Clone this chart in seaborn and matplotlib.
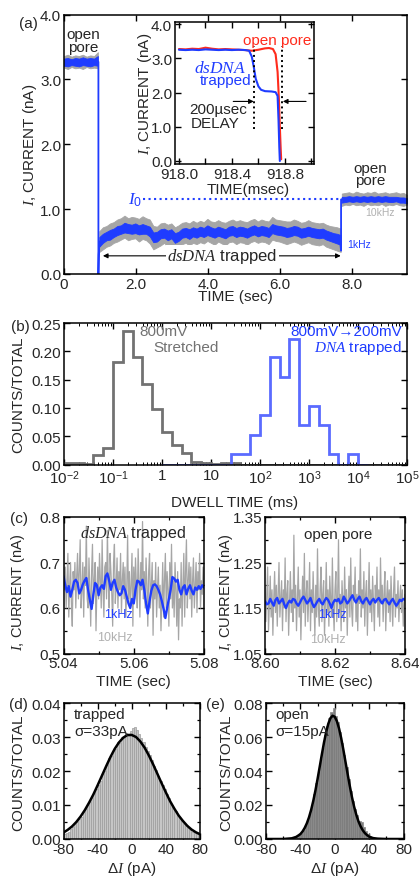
import numpy as np
import pandas as pd
import matplotlib
matplotlib.use("Agg")
import matplotlib.pyplot as plt
from matplotlib.ticker import MultipleLocator, FixedLocator, FuncFormatter, LogLocator, NullFormatter
import seaborn as sns

# ================= DATA =================
# (a) full trace, bands (nA)
open1_gray_lo = [3.18, 3.16, 3.19, 3.17, 3.18, 3.16, 3.19, 3.17, 3.18, 3.17]
open1_gray_hi = [3.36, 3.38, 3.35, 3.37, 3.36, 3.38, 3.35, 3.37, 3.36, 3.42]
open1_blue_lo = [3.21, 3.20, 3.22, 3.21, 3.20, 3.22, 3.21, 3.20, 3.22, 3.21]
open1_blue_hi = [3.32, 3.33, 3.31, 3.33, 3.32, 3.34, 3.32, 3.33, 3.32, 3.36]

trap_blue_lo = [0.42, 0.48, 0.52, 0.53, 0.57, 0.60, 0.62, 0.64, 0.63, 0.62,
                0.63, 0.61, 0.62, 0.62, 0.58, 0.49, 0.50, 0.55, 0.56, 0.52,
                0.55, 0.48, 0.51, 0.56, 0.57, 0.54, 0.58, 0.56, 0.59, 0.57,
                0.60, 0.58, 0.56, 0.59, 0.57, 0.55, 0.59, 0.60, 0.57, 0.59,
                0.58, 0.56, 0.59, 0.61, 0.58, 0.60, 0.59, 0.57, 0.63, 0.61,
                0.60, 0.59, 0.57, 0.58, 0.60, 0.59, 0.56, 0.57, 0.59, 0.57,
                0.56, 0.55, 0.56, 0.53, 0.51, 0.49, 0.47, 0.45]
trap_blue_hi = [0.57, 0.62, 0.65, 0.68, 0.70, 0.74, 0.75, 0.79, 0.77, 0.76,
                0.78, 0.75, 0.77, 0.75, 0.73, 0.64, 0.65, 0.69, 0.70, 0.67,
                0.69, 0.63, 0.65, 0.70, 0.71, 0.69, 0.72, 0.70, 0.73, 0.71,
                0.75, 0.72, 0.70, 0.73, 0.71, 0.69, 0.73, 0.74, 0.71, 0.73,
                0.72, 0.70, 0.73, 0.75, 0.72, 0.74, 0.73, 0.71, 0.77, 0.75,
                0.74, 0.73, 0.71, 0.72, 0.74, 0.73, 0.70, 0.71, 0.73, 0.71,
                0.70, 0.69, 0.70, 0.67, 0.65, 0.63, 0.62, 0.60]
trap_gray_lo = [0.34, 0.38, 0.42, 0.44, 0.48, 0.50, 0.53, 0.56, 0.52, 0.54,
                0.55, 0.50, 0.54, 0.52, 0.47, 0.38, 0.41, 0.44, 0.48, 0.42,
                0.45, 0.39, 0.40, 0.46, 0.48, 0.44, 0.48, 0.46, 0.49, 0.47,
                0.51, 0.48, 0.45, 0.50, 0.47, 0.44, 0.49, 0.50, 0.46, 0.49,
                0.48, 0.45, 0.49, 0.51, 0.48, 0.50, 0.49, 0.46, 0.53, 0.51,
                0.50, 0.48, 0.46, 0.48, 0.50, 0.48, 0.45, 0.47, 0.49, 0.46,
                0.45, 0.44, 0.46, 0.42, 0.40, 0.38, 0.36, 0.34]
trap_gray_hi = [0.66, 0.72, 0.74, 0.78, 0.80, 0.84, 0.86, 0.90, 0.86, 0.88,
                0.87, 0.85, 0.89, 0.86, 0.84, 0.74, 0.73, 0.78, 0.79, 0.76,
                0.78, 0.72, 0.75, 0.79, 0.80, 0.78, 0.82, 0.79, 0.82, 0.80,
                0.85, 0.81, 0.80, 0.83, 0.80, 0.79, 0.82, 0.84, 0.81, 0.83,
                0.81, 0.80, 0.83, 0.85, 0.81, 0.84, 0.82, 0.81, 0.88, 0.84,
                0.83, 0.82, 0.81, 0.81, 0.84, 0.82, 0.79, 0.80, 0.83, 0.80,
                0.79, 0.78, 0.79, 0.76, 0.74, 0.73, 0.72, 0.70]

open2_gray_lo = [1.05, 1.07, 1.06, 1.08, 1.06, 1.07, 1.05, 1.08, 1.06, 1.07,
                 1.06, 1.08, 1.05, 1.07, 1.06, 1.08, 1.06, 1.05, 1.07]
open2_gray_hi = [1.24, 1.25, 1.26, 1.24, 1.27, 1.25, 1.24, 1.26, 1.25, 1.27,
                 1.24, 1.25, 1.26, 1.24, 1.25, 1.26, 1.24, 1.25, 1.22]
open2_blue_lo = [1.10, 1.11, 1.12, 1.11, 1.12, 1.11, 1.12, 1.11, 1.12, 1.11,
                 1.12, 1.11, 1.12, 1.11, 1.11, 1.12, 1.10, 1.10, 1.09]
open2_blue_hi = [1.19, 1.19, 1.20, 1.19, 1.20, 1.19, 1.20, 1.19, 1.20, 1.19,
                 1.20, 1.19, 1.20, 1.19, 1.19, 1.19, 1.18, 1.18, 1.17]

# blue steps at capture and release
capture_t = [0.94, 0.955, 0.955, 0.965, 0.975, 0.99]
capture_i = [3.27, 3.27, 0.0, 0.30, 0.42, 0.50]
release_t = [7.66, 7.69, 7.69, 7.72]
release_i = [0.52, 0.36, 1.15, 1.15]
i0_level = 1.16

# (a) inset (msec, nA)
red_t = [918.0, 918.05, 918.1, 918.15, 918.2, 918.25, 918.3, 918.35, 918.4, 918.45,
         918.5, 918.55, 918.6, 918.65, 918.68, 918.71, 918.73, 918.745, 918.755,
         918.762, 918.768, 918.772]
red_i = [3.27, 3.26, 3.28, 3.27, 3.31, 3.28, 3.26, 3.27, 3.26, 3.25,
         3.24, 3.22, 3.25, 3.29, 3.30, 3.27, 3.12, 2.60, 1.80, 1.0, 0.4, 0.05]
ins_blue_t = [918.0, 918.05, 918.1, 918.15, 918.2, 918.25, 918.3, 918.35, 918.4, 918.45,
              918.5, 918.53, 918.55, 918.565, 918.58, 918.6, 918.62, 918.65, 918.7,
              918.73, 918.745, 918.752, 918.758, 918.762]
ins_blue_i = [3.25, 3.24, 3.25, 3.24, 3.26, 3.25, 3.24, 3.25, 3.24, 3.25,
              3.24, 3.22, 3.05, 2.75, 2.40, 2.18, 2.08, 2.04, 2.03, 2.01,
              1.90, 1.20, 0.40, 0.0]
delay_marks = [918.57, 918.775]

# (b) dwell time histograms, bins of 0.2 decade
log_edges = np.round(np.arange(-2.0, 5.01, 0.2), 1)
stretched_frac = [0.002, 0.003, 0.001, 0.016, 0.030, 0.182, 0.236, 0.190, 0.143, 0.098,
                  0.057, 0.034, 0.021, 0.004, 0.003, 0.001, 0.002, 0.003, 0.0, 0.0,
                  0.0, 0.0, 0.0, 0.0, 0.0, 0.0, 0.0, 0.0, 0.0, 0.0,
                  0.0, 0.0, 0.0, 0.0, 0.0]
trapped_log_edges = np.round(np.arange(0.0, 4.21, 0.2), 1)
trapped_frac = [0.0, 0.0, 0.0, 0.0, 0.0, 0.0, 0.0, 0.019, 0.019, 0.053,
                0.087, 0.190, 0.155, 0.222, 0.070, 0.104, 0.070, 0.019, 0.0, 0.019,
                0.0]

# (c) zoomed traces (nA)
trap_1k = [0.670, 0.650, 0.635, 0.648, 0.625, 0.640, 0.658, 0.662, 0.655, 0.632,
           0.640, 0.652, 0.660, 0.666, 0.640, 0.618, 0.598, 0.630, 0.655, 0.650,
           0.628, 0.645, 0.650, 0.642, 0.670, 0.676, 0.660, 0.640, 0.655, 0.662,
           0.645, 0.635, 0.628, 0.632, 0.648, 0.640, 0.625, 0.610, 0.600, 0.620,
           0.610, 0.640, 0.660, 0.658, 0.650, 0.662, 0.640, 0.610, 0.588, 0.615,
           0.638, 0.650, 0.652, 0.648, 0.640, 0.630, 0.615, 0.598, 0.578, 0.600,
           0.620, 0.640, 0.668, 0.665, 0.658, 0.662, 0.640, 0.630, 0.645, 0.650,
           0.630, 0.642, 0.650, 0.638, 0.630, 0.645, 0.640, 0.648, 0.642, 0.650, 0.645]
trap_10k = [0.700, 0.640, 0.690, 0.600, 0.660, 0.720, 0.580, 0.650, 0.700, 0.610, 0.560, 0.680, 0.640, 0.700, 0.600, 0.670,
            0.720, 0.620, 0.680, 0.750, 0.600, 0.640, 0.700, 0.580, 0.690, 0.650, 0.780, 0.620, 0.600, 0.710, 0.640, 0.560,
            0.680, 0.740, 0.610, 0.660, 0.700, 0.550, 0.640, 0.690, 0.620, 0.720, 0.660, 0.600, 0.750, 0.640, 0.580, 0.690,
            0.700, 0.620, 0.770, 0.650, 0.600, 0.720, 0.680, 0.630, 0.560, 0.700, 0.740, 0.610, 0.650, 0.710, 0.600, 0.680,
            0.640, 0.720, 0.590, 0.660, 0.700, 0.620, 0.690, 0.580, 0.640, 0.760, 0.620, 0.680, 0.600, 0.650, 0.720, 0.560,
            0.690, 0.620, 0.710, 0.650, 0.600, 0.730, 0.660, 0.580, 0.700, 0.640, 0.790, 0.620, 0.680, 0.600, 0.710, 0.650,
            0.560, 0.680, 0.720, 0.600, 0.650, 0.700, 0.540, 0.660, 0.620, 0.700, 0.580, 0.640, 0.690, 0.600, 0.650, 0.550,
            0.620, 0.700, 0.580, 0.660, 0.720, 0.600, 0.680, 0.640, 0.560, 0.700, 0.620, 0.740, 0.600, 0.660, 0.580, 0.700,
            0.640, 0.560, 0.680, 0.530, 0.620, 0.600, 0.700, 0.560, 0.650, 0.720, 0.580, 0.680, 0.750, 0.600, 0.660, 0.700,
            0.620, 0.690, 0.580, 0.660, 0.710, 0.600, 0.650, 0.700, 0.590, 0.680, 0.640, 0.720, 0.600, 0.660, 0.630, 0.690, 0.650]
open_1k = [1.165, 1.158, 1.160, 1.170, 1.162, 1.155, 1.168, 1.172, 1.160, 1.165,
           1.170, 1.158, 1.150, 1.160, 1.166, 1.162, 1.170, 1.168, 1.160, 1.155,
           1.162, 1.170, 1.175, 1.168, 1.160, 1.165, 1.172, 1.160, 1.152, 1.158,
           1.165, 1.170, 1.162, 1.158, 1.166, 1.172, 1.168, 1.160, 1.150, 1.162,
           1.168, 1.165, 1.170, 1.160, 1.163, 1.175, 1.168, 1.160, 1.165, 1.172,
           1.178, 1.168, 1.162, 1.170, 1.175, 1.165, 1.160, 1.168, 1.172, 1.165,
           1.158, 1.166, 1.170, 1.162, 1.168, 1.172, 1.165, 1.160, 1.168, 1.170,
           1.163, 1.158, 1.165, 1.170, 1.162, 1.155, 1.160, 1.168, 1.165, 1.170, 1.168]
open_10k = [1.200, 1.120, 1.180, 1.240, 1.100, 1.160, 1.220, 1.130, 1.190, 1.090, 1.170, 1.230, 1.140, 1.200, 1.110, 1.180,
            1.250, 1.130, 1.170, 1.210, 1.100, 1.190, 1.150, 1.260, 1.120, 1.180, 1.210, 1.090, 1.160, 1.230, 1.140, 1.190,
            1.120, 1.310, 1.150, 1.200, 1.100, 1.170, 1.240, 1.130, 1.190, 1.080, 1.160, 1.220, 1.140, 1.270, 1.110, 1.180,
            1.210, 1.120, 1.170, 1.250, 1.100, 1.190, 1.140, 1.230, 1.160, 1.090, 1.200, 1.130, 1.280, 1.150, 1.110, 1.190,
            1.240, 1.120, 1.180, 1.210, 1.090, 1.160, 1.250, 1.140, 1.190, 1.110, 1.220, 1.170, 1.130, 1.260, 1.150, 1.100,
            1.190, 1.230, 1.120, 1.170, 1.300, 1.140, 1.180, 1.100, 1.210, 1.160, 1.120, 1.240, 1.150, 1.190, 1.090, 1.170,
            1.220, 1.130, 1.260, 1.150, 1.110, 1.200, 1.170, 1.240, 1.120, 1.180, 1.100, 1.210, 1.160, 1.280, 1.130, 1.190,
            1.150, 1.230, 1.110, 1.180, 1.210, 1.090, 1.170, 1.250, 1.140, 1.190, 1.120, 1.220, 1.160, 1.100, 1.200, 1.170,
            1.240, 1.130, 1.190, 1.110, 1.260, 1.160, 1.200, 1.120, 1.180, 1.230, 1.100, 1.170, 1.210, 1.140, 1.190, 1.120,
            1.220, 1.160, 1.110, 1.190, 1.240, 1.130, 1.180, 1.150, 1.210, 1.120, 1.170, 1.200, 1.140, 1.190, 1.110, 1.160, 1.180]

# (d),(e) noise histograms, 2.5 pA bins from -80 to 80
dI_edges = np.arange(-80.0, 80.01, 2.5)
trapped_hist = [0.0015, 0.0018, 0.0022, 0.0030, 0.0036, 0.0044, 0.0050, 0.0060, 0.0066, 0.0079,
                0.0088, 0.0100, 0.0108, 0.0122, 0.0134, 0.0147, 0.0160, 0.0171, 0.0190, 0.0200,
                0.0218, 0.0238, 0.0245, 0.0262, 0.0266, 0.0285, 0.0283, 0.0301, 0.0296, 0.0312,
                0.0303, 0.0318, 0.0327, 0.0330, 0.0322, 0.0310, 0.0298, 0.0285, 0.0270, 0.0258,
                0.0246, 0.0232, 0.0215, 0.0202, 0.0186, 0.0170, 0.0160, 0.0146, 0.0131, 0.0120,
                0.0104, 0.0095, 0.0082, 0.0072, 0.0062, 0.0055, 0.0045, 0.0040, 0.0031, 0.0026,
                0.0022, 0.0019, 0.0016, 0.0012]
open_hist = [0.0, 0.0, 0.0, 0.0, 0.0001, 0.0, 0.0001, 0.0001, 0.0001, 0.0002,
             0.0002, 0.0003, 0.0005, 0.0010, 0.0016, 0.0025, 0.0038, 0.0055, 0.0080, 0.0112,
             0.0150, 0.0198, 0.0262, 0.0330, 0.0392, 0.0470, 0.0538, 0.0610, 0.0662, 0.0712,
             0.0745, 0.0768, 0.0722, 0.0690, 0.0628, 0.0565, 0.0495, 0.0425, 0.0352, 0.0285,
             0.0225, 0.0178, 0.0140, 0.0108, 0.0098, 0.0072, 0.0048, 0.0030, 0.0020, 0.0012,
             0.0008, 0.0005, 0.0003, 0.0002, 0.0001, 0.0001, 0.0, 0.0, 0.0, 0.0,
             0.0, 0.0, 0.0, 0.0]

# Gaussian fits as drawn (read at 5 pA / 2.5 pA steps)
fit_d_x = list(range(-80, 81, 5))
fit_d_y = [0.0019, 0.0027, 0.0037, 0.0050, 0.0066, 0.0085, 0.0107, 0.0131, 0.0158, 0.0186,
           0.0214, 0.0241, 0.0265, 0.0284, 0.0298, 0.0306, 0.0306, 0.0300, 0.0287, 0.0269,
           0.0246, 0.0220, 0.0192, 0.0164, 0.0137, 0.0111, 0.0089, 0.0069, 0.0053, 0.0039,
           0.0028, 0.0020, 0.0014]
fit_e_x = [-80, -60, -50, -45, -42.5, -40, -37.5, -35, -32.5, -30, -27.5, -25, -22.5, -20,
           -17.5, -15, -12.5, -10, -7.5, -5, -2.5, 0, 2.5, 5, 7.5, 10, 12.5, 15, 17.5, 20,
           22.5, 25, 27.5, 30, 32.5, 35, 37.5, 40, 42.5, 45, 50, 60, 80]
fit_e_y = [0.0, 0.0, 0.0004, 0.0012, 0.0020, 0.0029, 0.0044, 0.0065, 0.0092, 0.0127,
           0.0171, 0.0224, 0.0285, 0.0353, 0.0425, 0.0498, 0.0568, 0.0629, 0.0678, 0.0711,
           0.0725, 0.0719, 0.0693, 0.0650, 0.0593, 0.0526, 0.0454, 0.0382, 0.0312, 0.0247,
           0.0191, 0.0144, 0.0105, 0.0075, 0.0052, 0.0035, 0.0023, 0.0014, 0.0009, 0.0005,
           0.0002, 0.0, 0.0]

# ================= STYLE =================
sns.set_theme(style="ticks")
plt.rcParams["font.family"] = ["Liberation Sans", "DejaVu Sans"]
plt.rcParams["mathtext.fontset"] = "custom"
plt.rcParams["mathtext.rm"] = "Liberation Sans"
plt.rcParams["mathtext.it"] = "Liberation Serif:italic"
plt.rcParams["mathtext.bf"] = "Liberation Sans:bold"
plt.rcParams["axes.unicode_minus"] = False

W, H = 419, 878
FS = 11
BLUE = "#1f3cff"
GRAY = "#a6a6a6"
RED = "#ff2b1c"
HBLUE = "#5b6bff"
HGRAY = "#727272"

fig = plt.figure(figsize=(W / 100, H / 100), dpi=100)


def box(left, top, right, bottom):
    return [left / W, 1 - bottom / H, (right - left) / W, (bottom - top) / H]


def ftext(px, py, s, **kw):
    kw.setdefault("fontsize", FS)
    kw.setdefault("ha", "center")
    kw.setdefault("va", "center")
    fig.text(px / W, 1 - py / H, s, **kw)


def style(ax):
    ax.set_facecolor("white")
    ax.grid(False)
    ax.tick_params(which="both", direction="in", top=True, right=True,
                   labelsize=FS, pad=2, color="black")
    ax.tick_params(which="major", length=4.5, width=1.0)
    ax.tick_params(which="minor", length=2.5, width=0.9)
    for s in ax.spines.values():
        s.set_linewidth(1.1)
        s.set_color("black")
        s.set_zorder(5)
    ax.set_xlabel("")
    ax.set_ylabel("")


def line(ax, x, y, **kw):
    sns.lineplot(x=x, y=y, ax=ax, estimator=None, sort=False, legend=False, **kw)


# ================= (a) =================
ax = fig.add_axes(box(64, 15.5, 407, 275))
t1 = np.linspace(0.0, 0.94, len(open1_gray_lo))
t2 = np.linspace(0.98, 7.68, len(trap_gray_lo))
t3 = np.linspace(7.71, 9.52, len(open2_gray_lo))
for t, glo, ghi, blo, bhi in [(t1, open1_gray_lo, open1_gray_hi, open1_blue_lo, open1_blue_hi),
                              (t2, trap_gray_lo, trap_gray_hi, trap_blue_lo, trap_blue_hi),
                              (t3, open2_gray_lo, open2_gray_hi, open2_blue_lo, open2_blue_hi)]:
    ax.fill_between(t, glo, ghi, color=GRAY, lw=0.6, edgecolor=GRAY)
    ax.fill_between(t, blo, bhi, color=BLUE, lw=0.6, edgecolor=BLUE)
line(ax, capture_t, capture_i, color=BLUE, lw=1.3)
line(ax, release_t, release_i, color=BLUE, lw=1.3)
line(ax, [2.2, 7.72], [i0_level, i0_level], color=BLUE, lw=1.5, linestyle=":")
ax.text(1.97, 1.15, r"$\mathit{I_0}$", color=BLUE, fontsize=12.5, ha="center", va="center")
ax.annotate("", xy=(1.08, 0.28), xytext=(7.68, 0.28),
            arrowprops=dict(arrowstyle="<|-|>", lw=0.8, color="black", mutation_scale=7,
                            shrinkA=0, shrinkB=0))
ax.text(4.4, 0.28, r"$dsDNA$ trapped", fontsize=12, ha="center", va="center",
        bbox=dict(facecolor="white", edgecolor="none", pad=1.0))
ax.text(0.53, 3.60, "open\npore", ha="center", va="center", fontsize=FS, linespacing=0.85)
ax.text(8.5, 1.54, "open\npore", ha="center", va="center", fontsize=FS, linespacing=0.85)
ax.text(8.78, 0.95, "10kHz", color="#b0b0b0", fontsize=7.5, ha="center", va="center")
ax.text(7.85, 0.46, "1kHz", color=BLUE, fontsize=7.5, ha="left", va="center")
ax.set_xlim(0, 9.52)
ax.set_ylim(0, 4.0)
ax.xaxis.set_major_locator(MultipleLocator(2))
ax.xaxis.set_major_formatter(FuncFormatter(lambda v, p: "0" if v == 0 else f"{v:.1f}"))
ax.yaxis.set_major_locator(MultipleLocator(1))
ax.yaxis.set_major_formatter(FuncFormatter(lambda v, p: f"{v:.1f}"))
style(ax)

# inset
axi = fig.add_axes(box(175, 23, 314, 165))
line(axi, red_t, red_i, color=RED, lw=1.5)
line(axi, ins_blue_t, ins_blue_i, color=BLUE, lw=1.5)
for xm in delay_marks:
    line(axi, [xm, xm], [0.93, 3.37], color="black", lw=1.4, linestyle=":")
axi.annotate("", xy=(918.565, 1.74), xytext=(918.41, 1.74),
             arrowprops=dict(arrowstyle="-|>", lw=0.8, color="black", mutation_scale=7,
                             shrinkA=0, shrinkB=0))
axi.annotate("", xy=(918.785, 1.74), xytext=(918.96, 1.74),
             arrowprops=dict(arrowstyle="-|>", lw=0.8, color="black", mutation_scale=7,
                             shrinkA=0, shrinkB=0))
axi.text(918.745, 3.53, "open pore", color=RED, fontsize=FS, ha="center", va="center")
axi.text(918.51, 2.76, r"$dsDNA$", color=BLUE, fontsize=12.5, ha="right", va="center")
axi.text(918.545, 2.37, "trapped", color=BLUE, fontsize=FS, ha="right", va="center")
axi.text(918.30, 1.52, "200\u00b5sec", fontsize=FS, ha="center", va="center")
axi.text(918.27, 1.11, "DELAY", fontsize=FS, ha="center", va="center")
axi.set_xlim(917.97, 919.02)
axi.set_ylim(-0.088, 4.06)
axi.xaxis.set_major_locator(FixedLocator([918.0, 918.4, 918.8]))
axi.xaxis.set_minor_locator(FixedLocator([918.2, 918.6, 919.0]))
axi.xaxis.set_major_formatter(FuncFormatter(lambda v, p: f"{v:.1f}"))
axi.yaxis.set_major_locator(MultipleLocator(1))
axi.yaxis.set_major_formatter(FuncFormatter(lambda v, p: f"{v:.1f}"))
style(axi)
axi.tick_params(which="minor", length=4.5, width=1.0)

ftext(28, 24, "(a)")
ftext(30, 145, r"$I$, CURRENT (nA)", rotation=90)
ftext(235, 297, "TIME (sec)")
ftext(145, 94, r"$I$, CURRENT (nA)", rotation=90)
ftext(248, 190, "TIME(msec)")

# ================= (b) =================
axb = fig.add_axes(box(64, 324, 407, 466))
axb.stairs(stretched_frac, 10.0 ** log_edges, color=HGRAY, lw=2.0, baseline=0)
axb.stairs(trapped_frac, 10.0 ** trapped_log_edges, color=HBLUE, lw=2.0, baseline=0)
axb.set_xscale("log")
axb.set_xlim(1e-2, 1e5)
axb.set_ylim(-0.0008, 0.25)
axb.xaxis.set_major_locator(FixedLocator([1e-2, 1e-1, 1, 10, 1e2, 1e3, 1e4, 1e5]))
dec_labels = [r"$10^{-2}$", r"$10^{-1}$", "1", "10", r"$10^{2}$", r"$10^{3}$", r"$10^{4}$", r"$10^{5}$"]
axb.set_xticklabels(dec_labels)
axb.xaxis.set_minor_locator(LogLocator(base=10, subs=np.arange(2, 10)))
axb.xaxis.set_minor_formatter(NullFormatter())
axb.yaxis.set_major_locator(MultipleLocator(0.05))
axb.yaxis.set_major_formatter(FuncFormatter(lambda v, p: f"{v:.2f}"))
style(axb)
axb.tick_params(which="minor", length=2.0, width=0.7)
axb.text(0.289, 0.944, "800mV", color=HGRAY, fontsize=FS, ha="center", va="center",
         transform=axb.transAxes)
axb.text(0.357, 0.83, "Stretched", color=HGRAY, fontsize=FS, ha="center", va="center",
         transform=axb.transAxes)
axb.text(0.985, 0.944, "800mV\u2192200mV", color=BLUE, fontsize=FS, ha="right", va="center",
         transform=axb.transAxes)
axb.text(0.985, 0.83, r"$DNA$ trapped", color=BLUE, fontsize=FS, ha="right", va="center",
         transform=axb.transAxes)
ftext(20, 327, "(b)")
ftext(18, 395, "COUNTS/TOTAL", rotation=90)
ftext(235, 503, "DWELL TIME (ms)")

# ================= (c) =================
axc1 = fig.add_axes(box(63.5, 518, 204, 654.5))
line(axc1, np.linspace(5.04, 5.08, len(trap_10k)), trap_10k, color=GRAY, lw=0.9)
line(axc1, np.linspace(5.04, 5.08, len(trap_1k)), trap_1k, color=BLUE, lw=1.7)
axc1.set_xlim(5.04, 5.08)
axc1.set_ylim(0.5, 0.8)
axc1.xaxis.set_major_locator(FixedLocator([5.04, 5.06, 5.08]))
axc1.xaxis.set_minor_locator(FixedLocator([5.05, 5.07]))
axc1.xaxis.set_major_formatter(FuncFormatter(lambda v, p: f"{v:.2f}"))
axc1.yaxis.set_major_locator(FixedLocator([0.5, 0.6, 0.7, 0.8]))
axc1.yaxis.set_minor_locator(FixedLocator([0.55, 0.65, 0.75]))
axc1.yaxis.set_major_formatter(FuncFormatter(lambda v, p: f"{v:.1f}"))
style(axc1)
axc1.text(0.495, 0.883, r"$dsDNA$ trapped", fontsize=11.5, ha="center", va="center",
          transform=axc1.transAxes)
axc1.text(0.388, 0.289, "1kHz", color=BLUE, fontsize=9, ha="center", va="center",
          transform=axc1.transAxes)
axc1.text(0.367, 0.121, "10kHz", color="#b0b0b0", fontsize=9, ha="center", va="center",
          transform=axc1.transAxes)

axc2 = fig.add_axes(box(265, 518, 405, 654.5))
line(axc2, np.linspace(8.60, 8.64, len(open_10k)), open_10k, color=GRAY, lw=0.9)
line(axc2, np.linspace(8.60, 8.64, len(open_1k)), open_1k, color=BLUE, lw=1.7)
axc2.set_xlim(8.60, 8.64)
axc2.set_ylim(1.05, 1.35)
axc2.xaxis.set_major_locator(FixedLocator([8.60, 8.62, 8.64]))
axc2.xaxis.set_minor_locator(FixedLocator([8.61, 8.63]))
axc2.xaxis.set_major_formatter(FuncFormatter(lambda v, p: f"{v:.2f}"))
axc2.yaxis.set_major_locator(FixedLocator([1.05, 1.15, 1.25, 1.35]))
axc2.yaxis.set_minor_locator(FixedLocator([1.10, 1.20, 1.30]))
axc2.yaxis.set_major_formatter(FuncFormatter(lambda v, p: f"{v:.2f}"))
style(axc2)
axc2.text(0.521, 0.875, "open pore", fontsize=FS, ha="center", va="center",
          transform=axc2.transAxes)
axc2.text(0.479, 0.289, "1kHz", color=BLUE, fontsize=9, ha="center", va="center",
          transform=axc2.transAxes)
axc2.text(0.45, 0.106, "10kHz", color="#b0b0b0", fontsize=9, ha="center", va="center",
          transform=axc2.transAxes)

ftext(19, 519, "(c)")
ftext(18, 592, r"$I$, CURRENT (nA)", rotation=90, fontsize=10.5)
ftext(226, 592, r"$I$, CURRENT (nA)", rotation=90, fontsize=10.5)
ftext(133, 682, "TIME (sec)")
ftext(335, 682, "TIME (sec)")

# ================= (d),(e) =================
dI_centers = (dI_edges[:-1] + dI_edges[1:]) / 2
noise_df = pd.DataFrame({"dI": dI_centers, "trapped": trapped_hist, "open": open_hist})

axd = fig.add_axes(box(63.5, 704, 200, 840))
sns.histplot(data=noise_df, x="dI", weights="trapped", bins=list(dI_edges), ax=axd,
             color="#c6c6c6", edgecolor="#9c9c9c", linewidth=0.5, alpha=1)
line(axd, fit_d_x, fit_d_y, color="black", lw=1.8)
axd.set_xlim(-80, 80)
axd.set_ylim(0, 0.04)
axd.xaxis.set_major_locator(MultipleLocator(40))
axd.xaxis.set_minor_locator(MultipleLocator(20))
axd.yaxis.set_major_locator(MultipleLocator(0.01))
axd.yaxis.set_minor_locator(MultipleLocator(0.005))
axd.yaxis.set_major_formatter(FuncFormatter(lambda v, p: f"{v:.2f}"))
style(axd)
axd.text(0.077, 0.919, "trapped", fontsize=FS, ha="left", va="center", transform=axd.transAxes)
axd.text(0.077, 0.794, "\u03c3=33pA", fontsize=FS, ha="left", va="center", transform=axd.transAxes)

axe = fig.add_axes(box(266, 704, 403.5, 840))
sns.histplot(data=noise_df, x="dI", weights="open", bins=list(dI_edges), ax=axe,
             color="#7e7e7e", edgecolor="#8a8a8a", linewidth=0.5, alpha=1)
line(axe, fit_e_x, fit_e_y, color="black", lw=1.8)
axe.set_xlim(-80, 80)
axe.set_ylim(0, 0.08)
axe.xaxis.set_major_locator(MultipleLocator(40))
axe.xaxis.set_minor_locator(MultipleLocator(20))
axe.yaxis.set_major_locator(MultipleLocator(0.02))
axe.yaxis.set_minor_locator(MultipleLocator(0.01))
axe.yaxis.set_major_formatter(FuncFormatter(lambda v, p: f"{v:.2f}"))
style(axe)
axe.text(0.065, 0.919, "open", fontsize=FS, ha="left", va="center", transform=axe.transAxes)
axe.text(0.065, 0.794, "\u03c3=15pA", fontsize=FS, ha="left", va="center", transform=axe.transAxes)

ftext(18, 705, "(d)")
ftext(215, 705, "(e)")
ftext(18, 773, "COUNTS/TOTAL", rotation=90)
ftext(226, 773, "COUNTS/TOTAL", rotation=90)
ftext(132, 869, r"$\Delta I$ (pA)")
ftext(335, 869, r"$\Delta I$ (pA)")

fig.savefig("out.png", dpi=100, facecolor="white")
